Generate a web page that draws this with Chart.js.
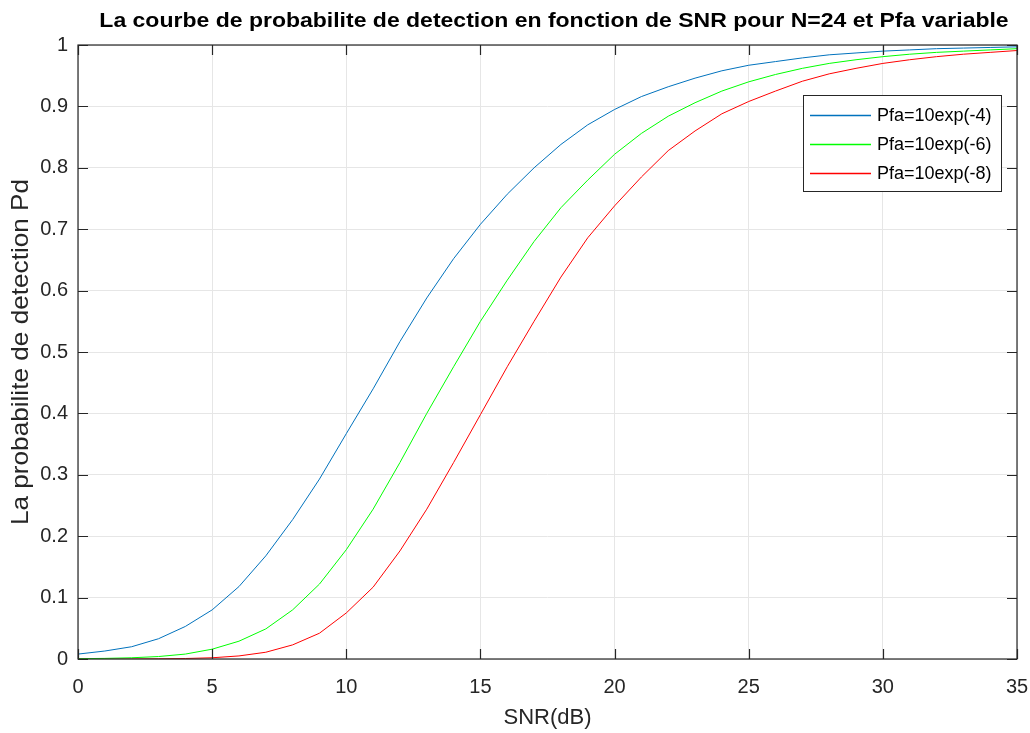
<!DOCTYPE html>
<html>
<head>
<meta charset="utf-8">
<script src="https://cdn.jsdelivr.net/npm/chart.js@4.4.1/dist/chart.umd.min.js"></script>
<style>
  html, body { margin: 0; padding: 0; background: #fff; }
  #wrap { width: 1030px; height: 733px; }
</style>
</head>
<body>
<div id="wrap"><canvas id="chart" width="1030" height="733"></canvas></div>
<script>
const snr = [0,1,2,3,4,5,6,7,8,9,10,11,12,13,14,15,16,17,18,19,20,21,22,23,24,25,26,27,28,29,30,31,32,33,34,35];
const pdPfa4 = [0.008,0.013,0.02,0.033,0.053,0.08,0.118,0.168,0.227,0.293,0.367,0.44,0.517,0.588,0.652,0.708,0.757,0.8,0.838,0.87,0.895,0.916,0.932,0.946,0.958,0.967,0.973,0.979,0.984,0.987,0.99,0.992,0.994,0.995,0.996,0.997];
const pdPfa6 = [0.0005,0.001,0.002,0.004,0.008,0.016,0.029,0.049,0.08,0.122,0.178,0.244,0.32,0.4,0.476,0.55,0.617,0.68,0.735,0.78,0.822,0.856,0.884,0.906,0.925,0.94,0.952,0.962,0.97,0.976,0.981,0.985,0.988,0.99,0.992,0.994];
const pdPfa8 = [0,0,0,0.0003,0.0008,0.002,0.005,0.011,0.023,0.042,0.075,0.117,0.176,0.244,0.32,0.398,0.476,0.55,0.622,0.686,0.738,0.785,0.828,0.86,0.888,0.908,0.925,0.941,0.953,0.962,0.97,0.976,0.981,0.985,0.988,0.991];
const seriesLabels = ["Pfa=10exp(-4)", "Pfa=10exp(-6)", "Pfa=10exp(-8)"];
const seriesColors = ["#0072BD", "#00FF00", "#FF0000"];
const titleText = "La courbe de probabilite de detection en fonction de SNR pour N=24 et Pfa variable";
const yTitleText = "La probabilite de detection Pd";

const FONT = "'Liberation Sans', Arial, Helvetica, sans-serif";

const toPoints = (ys) => snr.map((x, i) => ({ x: x, y: ys[i] }));

// box around the plot with ticks pointing inward, like matlab axes
const boxTicks = {
  id: "boxTicks",
  afterDatasetsDraw(chart) {
    const { ctx, chartArea: a, scales } = chart;
    const len = 10;
    ctx.save();
    ctx.strokeStyle = "#262626";
    ctx.lineWidth = 1.2;
    ctx.strokeRect(a.left, a.top, a.right - a.left, a.bottom - a.top);
    ctx.beginPath();
    scales.x.ticks.forEach(t => {
      const px = Math.round(scales.x.getPixelForValue(t.value)) + 0.5;
      ctx.moveTo(px, a.bottom); ctx.lineTo(px, a.bottom - len);
      ctx.moveTo(px, a.top); ctx.lineTo(px, a.top + len);
    });
    scales.y.ticks.forEach(t => {
      const py = Math.round(scales.y.getPixelForValue(t.value)) + 0.5;
      ctx.moveTo(a.left, py); ctx.lineTo(a.left + len, py);
      ctx.moveTo(a.right, py); ctx.lineTo(a.right - len, py);
    });
    ctx.stroke();
    ctx.restore();
  }
};

// titles: the original font is a bit wider than Liberation Sans, so stretch a little
const titles = {
  id: "titles",
  afterDraw(chart) {
    const { ctx, chartArea: a } = chart;
    ctx.save();
    ctx.fillStyle = "#000";
    ctx.textAlign = "center";
    ctx.textBaseline = "middle";
    ctx.font = "bold 20px " + FONT;
    ctx.translate(554, 21);
    ctx.scale(1.15, 1);
    ctx.fillText(titleText, 0, 0);
    ctx.restore();

    ctx.save();
    ctx.fillStyle = "#262626";
    ctx.textAlign = "center";
    ctx.textBaseline = "middle";
    ctx.font = "24px " + FONT;
    ctx.translate(21, (a.top + a.bottom) / 2);
    ctx.rotate(-Math.PI / 2);
    ctx.scale(1.09, 1);
    ctx.fillText(yTitleText, 0, 0);
    ctx.restore();
  }
};

// legend box inside the plot, top right
const boxLegend = {
  id: "boxLegend",
  afterDraw(chart) {
    const { ctx } = chart;
    const x0 = 803.5, y0 = 95.5, w = 198, h = 96;
    ctx.save();
    ctx.fillStyle = "#fff";
    ctx.fillRect(x0, y0, w, h);
    ctx.strokeStyle = "#262626";
    ctx.lineWidth = 1;
    ctx.strokeRect(x0, y0, w, h);
    ctx.font = "18px " + FONT;
    ctx.textBaseline = "middle";
    seriesLabels.forEach((lab, i) => {
      const cy = Math.round(y0 + 19 + i * 29) + 0.5;
      ctx.strokeStyle = seriesColors[i];
      ctx.lineWidth = 1.3;
      ctx.beginPath();
      ctx.moveTo(810, cy);
      ctx.lineTo(871, cy);
      ctx.stroke();
      ctx.fillStyle = "#000";
      ctx.fillText(lab, 877, cy + 1);
    });
    ctx.restore();
  }
};

const datasets = [pdPfa4, pdPfa6, pdPfa8].map((ys, i) => ({
  label: seriesLabels[i],
  data: toPoints(ys),
  borderColor: seriesColors[i],
  backgroundColor: seriesColors[i],
  borderWidth: 1,
  pointRadius: 0,
  tension: 0,
  fill: false
}));

new Chart(document.getElementById("chart"), {
  type: "line",
  data: { datasets: datasets },
  options: {
    responsive: false,
    animation: false,
    layout: { padding: { left: 0, right: 13, top: 45, bottom: 0 } },
    plugins: {
      legend: { display: false },
      tooltip: { enabled: false },
      title: { display: false }
    },
    scales: {
      x: {
        type: "linear",
        min: 0,
        max: 35,
        ticks: {
          stepSize: 5,
          color: "#262626",
          padding: 16,
          maxRotation: 0,
          font: { family: FONT, size: 20 }
        },
        grid: { color: "#e6e6e6", drawTicks: false },
        border: { display: false },
        title: {
          display: true,
          text: "SNR(dB)",
          color: "#262626",
          font: { family: FONT, size: 22 },
          padding: { top: 0, bottom: 2 }
        },
        afterFit(scale) {
          scale.height = 74;
          scale.paddingLeft = 0;
          scale.paddingRight = 0;
        }
      },
      y: {
        min: 0,
        max: 1,
        ticks: {
          stepSize: 0.1,
          color: "#262626",
          padding: 10,
          font: { family: FONT, size: 20 },
          callback: (v) => String(Math.round(v * 10) / 10)
        },
        grid: { color: "#e6e6e6", drawTicks: false },
        border: { display: false },
        title: { display: false },
        afterFit(scale) {
          scale.width = 78;
          scale.paddingTop = 0;
          scale.paddingBottom = 0;
        }
      }
    }
  },
  plugins: [boxTicks, titles, boxLegend]
});
</script>
</body>
</html>
